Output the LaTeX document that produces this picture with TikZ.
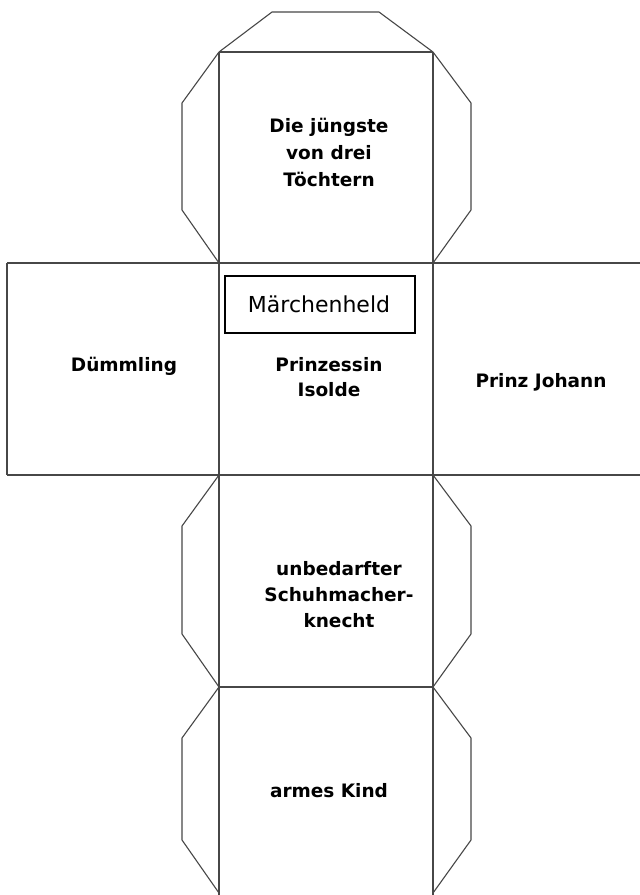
\documentclass[tikz,border=0pt]{standalone}
\usepackage{fontspec}
\setmainfont{DejaVu Sans}
\begin{document}
\begin{tikzpicture}[x=1pt,y=-1pt,
  edge/.style={draw=black!72, line width=1.1pt, line join=round},
  lbl/.style={anchor=base, inner sep=0pt, font=\fontsize{18.5}{22}\selectfont\bfseries},
  titlebox/.style={draw=black, line width=1.3pt},
  titletext/.style={anchor=base, inner sep=0pt, font=\fontsize{22}{26}\selectfont}
]
\useasboundingbox (0,0) rectangle (640,895);
\fill[white] (0,0) rectangle (640,895);
% center column verticals
\draw[edge] (219,52) -- (219,895);
\draw[edge] (433,52) -- (433,895);
% horizontals
\draw[edge] (219,52) -- (433,52);
\draw[edge] (7,263) -- (640,263);
\draw[edge] (7,475) -- (640,475);
\draw[edge] (219,687) -- (433,687);
\draw[edge] (7,263) -- (7,475);
% top flap
\draw[edge] (219,52) -- (272,12) -- (379,12) -- (433,52);
% side flaps
\foreach \t/\b in {52/263, 475/687, 687/893}{
  \draw[edge] (219,\t) -- (182,\t+51) -- (182,\b-53) -- (219,\b);
  \draw[edge] (433,\t) -- (471,\t+51) -- (471,\b-53) -- (433,\b);
}
% title box
\draw[titlebox] (225,276) rectangle (415,333);
\node[titletext] (title) at (319,312) {Märchenheld};
% texts
\node[lbl] (t1) at (329,132) {Die jüngste};
\node[lbl] (t2) at (329,159) {von drei};
\node[lbl] (t3) at (329,186) {Töchtern};
\node[lbl] (l1) at (124,371) {Dümmling};
\node[lbl] (c1) at (329,371) {Prinzessin};
\node[lbl] (c2) at (329,396) {Isolde};
\node[lbl] (r1) at (541,387) {Prinz Johann};
\node[lbl] (u1) at (339,575) {unbedarfter};
\node[lbl] (u2) at (339,601) {Schuhmacher-};
\node[lbl] (u3) at (339,627) {knecht};
\node[lbl] (b1) at (329,797) {armes Kind};
\end{tikzpicture}
\end{document}
